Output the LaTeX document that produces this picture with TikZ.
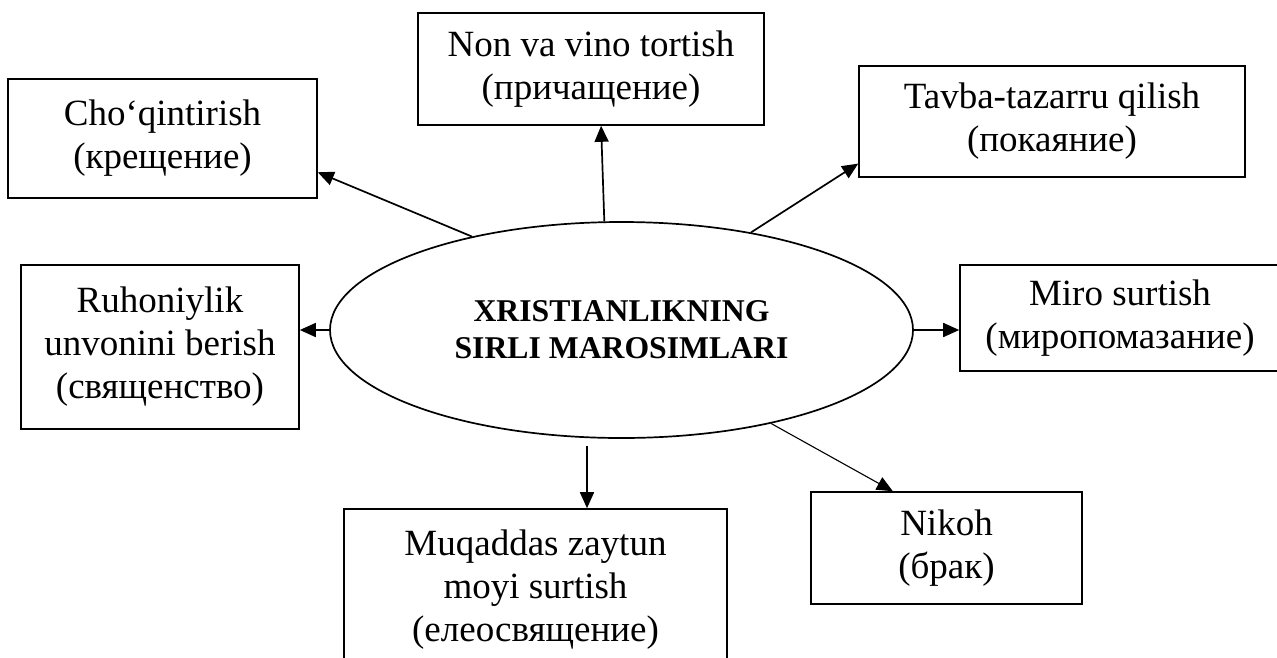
\documentclass[tikz,border=0pt]{standalone}
\usepackage{fontspec}
\setmainfont{Liberation Serif}
\usetikzlibrary{shapes.geometric,arrows.meta,calc}
\begin{document}
\begin{tikzpicture}[x=1pt,y=-1pt,
  box/.style={draw,line width=1.6pt,fill=white,align=center,inner sep=0pt,font=\fontsize{37}{43}\selectfont},
  arr/.style={line width=1.7pt,-{Triangle[length=16pt,width=14pt]}},
  thinarr/.style={line width=1.1pt,-{Triangle[length=16pt,width=14pt]}}]
\useasboundingbox (0,0) rectangle (1277,657);
\clip (0,0) rectangle (1277,657);
\node[draw,ellipse,line width=1.7pt,minimum width=583pt,minimum height=216pt,inner sep=0pt,align=center,font=\bfseries\fontsize{31.7}{37}\selectfont] (ell) at (621.5,330) {XRISTIANLIKNING\\SIRLI MAROSIMLARI};
\node[box,minimum width=309pt,minimum height=119pt] (chq) at (162.5,138.5) {Cho‘qintirish\\(крещение)};
\node[box,minimum width=346pt,minimum height=112pt] (non) at (591,69) {Non va vino tortish\\(причащение)};
\node[box,minimum width=386pt,minimum height=111pt] (tav) at (1052,121.5) {Tavba-tazarru qilish\\(покаяние)};
\node[box,minimum width=278pt,minimum height=164pt] (ruh) at (160,347) {Ruhoniylik\\unvonini berish\\(священство)};
\node[box,minimum width=320pt,minimum height=106pt] (miro) at (1120,318) {Miro surtish\\(миропомазание)};
\node[box,minimum width=383pt,minimum height=162pt] (muq) at (535.5,590) {Muqaddas zaytun\\moyi surtish\\(елеосвящение)};
\node[box,minimum width=271pt,minimum height=112pt] (nik) at (946.5,548) {Nikoh\\(брак)};
\draw[arr] (ell.148) -- ($(chq.north east)!0.78!(chq.south east)$);
\draw[arr] (ell.99.6) -- ($(non.south west)!0.529!(non.south east)$);
\draw[arr] (ell.37.1) -- ($(tav.north west)!0.874!(tav.south west)$);
\draw[arr] (ell.east) -- (ell.east -| miro.west);
\draw[arr] (ell.west) -- (ell.west -| ruh.east);
\coordinate (ms) at ($(ell.south)+(-34.5,7)$);
\draw[arr] (ms) -- (ms |- muq.north);
\draw[thinarr] (ell.-32.1) -- ($(nik.north west)!0.303!(nik.north east)$);
\end{tikzpicture}
\end{document}
